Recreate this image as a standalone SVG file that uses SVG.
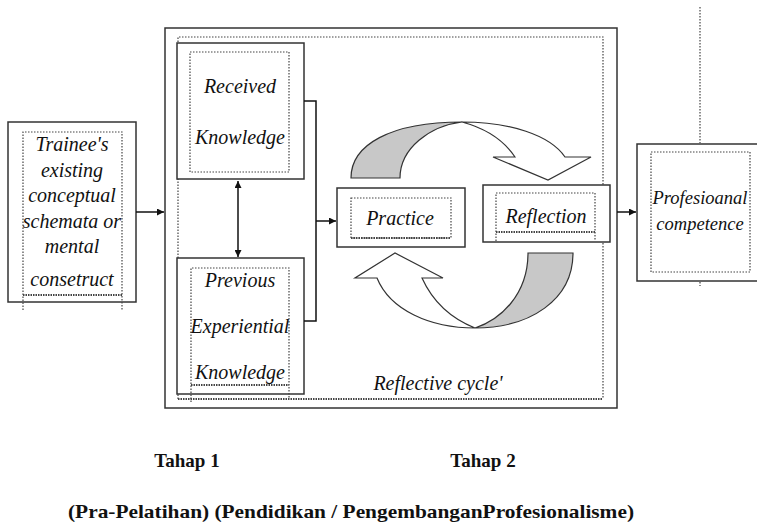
<svg xmlns="http://www.w3.org/2000/svg" width="757" height="526" viewBox="0 0 757 526">
<defs>
<style>
.box{fill:#fff;stroke:#333;stroke-width:1.5}
.dot{fill:none;stroke:#444;stroke-width:1.2;stroke-dasharray:1.5 1.5}
.dotb{fill:none;stroke:#444;stroke-width:2.2;stroke-dasharray:1.5 1}
.lbl{font-family:'Liberation Serif','Times New Roman','DejaVu Serif',serif;font-style:italic;font-size:20px;fill:#111;text-anchor:middle}
.cap{font-family:'Liberation Serif','Times New Roman','DejaVu Serif',serif;font-weight:bold;font-size:19px;fill:#111;text-anchor:middle}
.ln{fill:none;stroke:#111;stroke-width:1.5}
.arc{stroke:#333;stroke-width:1.2}
</style>
<marker id="ah" viewBox="0 0 10 10" refX="10" refY="5" markerWidth="7" markerHeight="7" orient="auto-start-reverse" markerUnits="userSpaceOnUse">
<path d="M0,0 L10,5 L0,10 Z" fill="#111"/>
</marker>
</defs>

<g id="stage2-frame">
<rect class="box" x="165" y="28" width="452" height="380"/>
<path class="dot" d="M178,399 V37 H603 V399"/>
<path class="dotb" d="M178,399 H603"/>
<text class="lbl" font-family="Liberation Serif, serif" x="438" y="390">Reflective cycle'</text>
</g>

<g id="trainee">
<rect class="box" x="8" y="122" width="128" height="180"/>
<path class="dot" d="M23,310 V132 H122 V310"/>
<path class="dotb" d="M23,295 H122"/>
<text class="lbl" font-family="Liberation Serif, serif" x="72" y="151">Trainee's</text>
<text class="lbl" font-family="Liberation Serif, serif" x="72" y="177">existing</text>
<text class="lbl" font-family="Liberation Serif, serif" x="72" y="202">conceptual</text>
<text class="lbl" font-family="Liberation Serif, serif" x="72" y="228">schemata or</text>
<text class="lbl" font-family="Liberation Serif, serif" x="72" y="253">mental</text>
<text class="lbl" font-family="Liberation Serif, serif" x="72" y="286">consetruct</text>
</g>

<g id="received">
<rect class="box" x="177" y="43" width="127" height="136"/>
<rect class="dot" x="190" y="52" width="99" height="120"/>
<text class="lbl" font-family="Liberation Serif, serif" x="240" y="93">Received</text>
<text class="lbl" font-family="Liberation Serif, serif" x="240" y="144">Knowledge</text>
</g>

<g id="previous">
<rect class="box" x="177" y="258" width="127" height="136"/>
<path class="dot" d="M191,402 V268 H289 V398"/>
<path class="dotb" d="M191,385 H289"/>
<text class="lbl" font-family="Liberation Serif, serif" x="240" y="287">Previous</text>
<text class="lbl" font-family="Liberation Serif, serif" x="240" y="333">Experiential</text>
<text class="lbl" font-family="Liberation Serif, serif" x="240" y="379">Knowledge</text>
</g>

<g id="practice">
<rect class="box" x="337" y="188" width="128" height="59"/>
<rect class="dot" x="351" y="198" width="100" height="40"/>
<path class="dotb" d="M351,238 H451"/>
<text class="lbl" font-family="Liberation Serif, serif" x="400" y="225">Practice</text>
</g>

<g id="reflection">
<rect class="box" x="483" y="185" width="127" height="57"/>
<path class="dot" d="M496,241 V193 H595 V241"/>
<path class="dotb" d="M496,232 H595"/>
<text class="lbl" font-family="Liberation Serif, serif" x="546" y="223">Reflection</text>
</g>

<g id="competence">
<rect class="box" x="637" y="144" width="125" height="137"/>
<rect class="dot" x="651" y="152" width="99" height="120"/>
<text class="lbl" font-family="Liberation Serif, serif" x="700" y="204" style="font-size:18.5px">Profesioanal</text>
<text class="lbl" font-family="Liberation Serif, serif" x="700" y="230" style="font-size:18.5px">competence</text>
</g>

<g id="cycle-top-arrow">
<path class="arc" fill="#c8c8c8" d="M351,178 C351,145 390,122 462,122 C430,126 400,148 400,178 Z"/>
<path class="arc" fill="#fff" d="M462,122 C510,122 550,135 565,157 L591,157 L548,180 L493,157 L515,157 C505,142 488,129 462,122 Z"/>
</g>

<g id="cycle-bottom-arrow">
<path class="arc" fill="#c8c8c8" d="M528,253 H573 C573,300 530,328 475,328 C500,320 528,295 528,253 Z"/>
<path class="arc" fill="#fff" d="M475,328 C430,328 390,310 377,278 L355,278 L395,253 L443,278 L422,278 C432,300 450,318 475,328 Z"/>
</g>

<g id="connectors">
<line class="ln" x1="136" y1="212" x2="164" y2="212" marker-end="url(#ah)"/>
<line class="ln" x1="238" y1="181" x2="238" y2="257" marker-start="url(#ah)" marker-end="url(#ah)"/>
<path class="ln" d="M304,101 H316 V321 H304"/>
<line class="ln" x1="316" y1="221" x2="336" y2="221" marker-end="url(#ah)"/>
<line class="ln" x1="617" y1="212" x2="636" y2="212" marker-end="url(#ah)"/>
<line class="dot" x1="700" y1="7" x2="700" y2="143"/>
<line class="dot" x1="700" y1="282" x2="700" y2="286"/>
</g>

<g id="captions">
<text class="cap" font-family="Liberation Serif, serif" x="187" y="467">Tahap 1</text>
<text class="cap" font-family="Liberation Serif, serif" x="483" y="467">Tahap 2</text>
<text class="cap" font-family="Liberation Serif, serif" x="351" y="518" textLength="566" lengthAdjust="spacingAndGlyphs">(Pra-Pelatihan) (Pendidikan / PengembanganProfesionalisme)</text>
</g>
</svg>
